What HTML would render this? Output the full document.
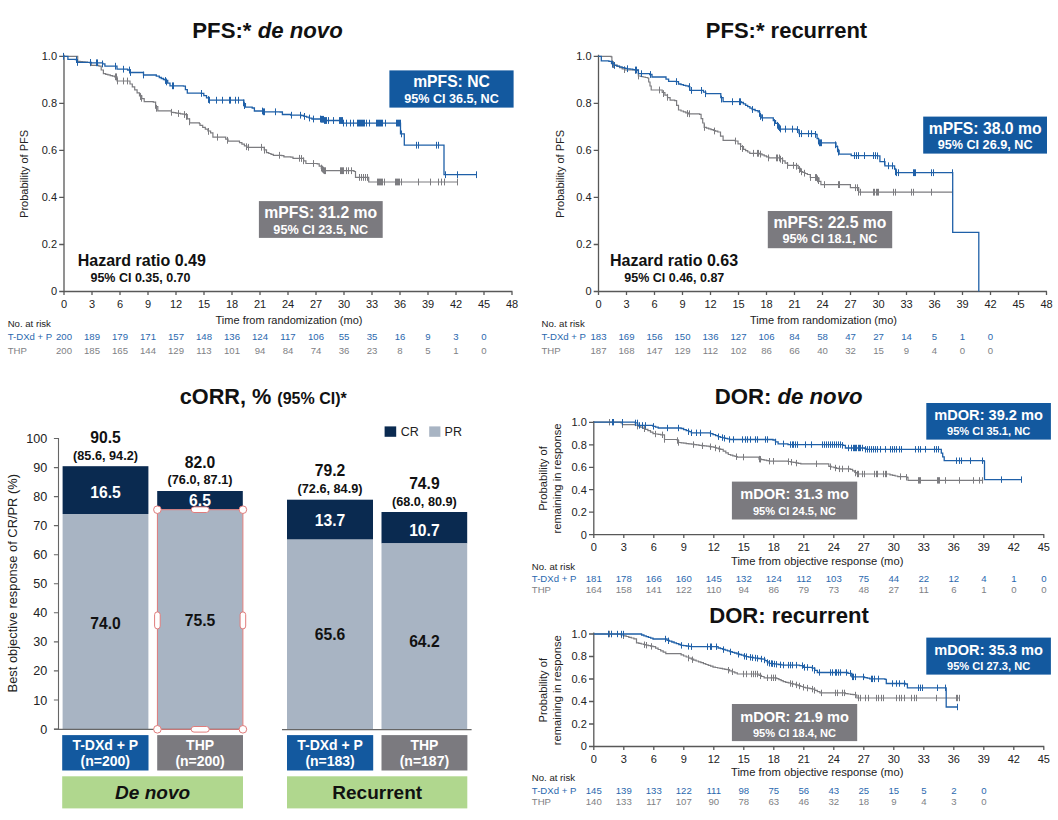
<!DOCTYPE html>
<html><head><meta charset="utf-8"><title>PFS, cORR and DOR by de novo / recurrent disease</title>
<style>
html,body{margin:0;padding:0;background:#fff;}
body{width:1058px;height:820px;overflow:hidden;font-family:"Liberation Sans",sans-serif;}
svg{display:block;font-family:"Liberation Sans",sans-serif;}
</style></head><body>
<svg width="1058" height="820" viewBox="0 0 1058 820">
<rect width="1058" height="820" fill="#ffffff"/>
<text x="267.5" y="37.8" font-size="22.2" text-anchor="middle" fill="#111" font-weight="bold">PFS:* <tspan font-style="italic">de novo</tspan></text>
<text x="786.5" y="37.8" font-size="22.00" text-anchor="middle" fill="#111" font-weight="bold" font-style="normal">PFS:* recurrent</text>
<text x="263.2" y="403.6" font-size="21.7" text-anchor="middle" fill="#111" font-weight="bold">cORR, % <tspan font-size="16">(95% CI)*</tspan></text>
<text x="788.6" y="403.8" font-size="22.2" text-anchor="middle" fill="#111" font-weight="bold">DOR: <tspan font-style="italic">de novo</tspan></text>
<text x="789.0" y="622.7" font-size="22.10" text-anchor="middle" fill="#111" font-weight="bold" font-style="normal">DOR: recurrent</text>
<path d="M64.0 54.8V291.5H512.5M64.0 291.5h-4.8M64.0 244.5h-4.8M64.0 197.4h-4.8M64.0 150.4h-4.8M64.0 103.3h-4.8M64.0 56.3h-4.8M64.0 291.5v3.5M92.0 291.5v3.5M120.0 291.5v3.5M148.0 291.5v3.5M176.0 291.5v3.5M204.0 291.5v3.5M232.0 291.5v3.5M260.0 291.5v3.5M288.0 291.5v3.5M316.0 291.5v3.5M344.0 291.5v3.5M372.0 291.5v3.5M400.0 291.5v3.5M428.0 291.5v3.5M456.0 291.5v3.5M484.0 291.5v3.5M512.0 291.5v3.5" fill="none" stroke="#585858" stroke-width="1.3"/>
<text x="57.0" y="295.4" font-size="11.00" text-anchor="end" fill="#222222" font-weight="normal" font-style="normal">0</text>
<text x="57.0" y="248.4" font-size="11.00" text-anchor="end" fill="#222222" font-weight="normal" font-style="normal">0.2</text>
<text x="57.0" y="201.3" font-size="11.00" text-anchor="end" fill="#222222" font-weight="normal" font-style="normal">0.4</text>
<text x="57.0" y="154.3" font-size="11.00" text-anchor="end" fill="#222222" font-weight="normal" font-style="normal">0.6</text>
<text x="57.0" y="107.2" font-size="11.00" text-anchor="end" fill="#222222" font-weight="normal" font-style="normal">0.8</text>
<text x="57.0" y="60.2" font-size="11.00" text-anchor="end" fill="#222222" font-weight="normal" font-style="normal">1.0</text>
<text x="64.0" y="308.4" font-size="11.00" text-anchor="middle" fill="#222222" font-weight="normal" font-style="normal">0</text>
<text x="92.0" y="308.4" font-size="11.00" text-anchor="middle" fill="#222222" font-weight="normal" font-style="normal">3</text>
<text x="120.0" y="308.4" font-size="11.00" text-anchor="middle" fill="#222222" font-weight="normal" font-style="normal">6</text>
<text x="148.0" y="308.4" font-size="11.00" text-anchor="middle" fill="#222222" font-weight="normal" font-style="normal">9</text>
<text x="176.0" y="308.4" font-size="11.00" text-anchor="middle" fill="#222222" font-weight="normal" font-style="normal">12</text>
<text x="204.0" y="308.4" font-size="11.00" text-anchor="middle" fill="#222222" font-weight="normal" font-style="normal">15</text>
<text x="232.0" y="308.4" font-size="11.00" text-anchor="middle" fill="#222222" font-weight="normal" font-style="normal">18</text>
<text x="260.0" y="308.4" font-size="11.00" text-anchor="middle" fill="#222222" font-weight="normal" font-style="normal">21</text>
<text x="288.0" y="308.4" font-size="11.00" text-anchor="middle" fill="#222222" font-weight="normal" font-style="normal">24</text>
<text x="316.0" y="308.4" font-size="11.00" text-anchor="middle" fill="#222222" font-weight="normal" font-style="normal">27</text>
<text x="344.0" y="308.4" font-size="11.00" text-anchor="middle" fill="#222222" font-weight="normal" font-style="normal">30</text>
<text x="372.0" y="308.4" font-size="11.00" text-anchor="middle" fill="#222222" font-weight="normal" font-style="normal">33</text>
<text x="400.0" y="308.4" font-size="11.00" text-anchor="middle" fill="#222222" font-weight="normal" font-style="normal">36</text>
<text x="428.0" y="308.4" font-size="11.00" text-anchor="middle" fill="#222222" font-weight="normal" font-style="normal">39</text>
<text x="456.0" y="308.4" font-size="11.00" text-anchor="middle" fill="#222222" font-weight="normal" font-style="normal">42</text>
<text x="484.0" y="308.4" font-size="11.00" text-anchor="middle" fill="#222222" font-weight="normal" font-style="normal">45</text>
<text x="512.0" y="308.4" font-size="11.00" text-anchor="middle" fill="#222222" font-weight="normal" font-style="normal">48</text>
<text x="289.0" y="324.2" font-size="11.00" text-anchor="middle" fill="#222222" font-weight="normal" font-style="normal">Time from randomization (mo)</text>
<text x="28.0" y="173.9" font-size="11.00" text-anchor="middle" fill="#222222" font-weight="normal" font-style="normal" transform="rotate(-90 28.0 173.9)">Probability of PFS</text>
<text x="7.7" y="327.3" font-size="9.60" text-anchor="start" fill="#222222" font-weight="normal" font-style="normal">No. at risk</text>
<text x="7.7" y="340.4" font-size="9.60" text-anchor="start" fill="#2a68ae" font-weight="normal" font-style="normal">T-DXd + P</text>
<text x="7.7" y="354.4" font-size="9.60" text-anchor="start" fill="#808184" font-weight="normal" font-style="normal">THP</text>
<text x="64.0" y="340.4" font-size="9.60" text-anchor="middle" fill="#2a68ae" font-weight="normal" font-style="normal">200</text>
<text x="92.0" y="340.4" font-size="9.60" text-anchor="middle" fill="#2a68ae" font-weight="normal" font-style="normal">189</text>
<text x="120.0" y="340.4" font-size="9.60" text-anchor="middle" fill="#2a68ae" font-weight="normal" font-style="normal">179</text>
<text x="148.0" y="340.4" font-size="9.60" text-anchor="middle" fill="#2a68ae" font-weight="normal" font-style="normal">171</text>
<text x="176.0" y="340.4" font-size="9.60" text-anchor="middle" fill="#2a68ae" font-weight="normal" font-style="normal">157</text>
<text x="204.0" y="340.4" font-size="9.60" text-anchor="middle" fill="#2a68ae" font-weight="normal" font-style="normal">148</text>
<text x="232.0" y="340.4" font-size="9.60" text-anchor="middle" fill="#2a68ae" font-weight="normal" font-style="normal">136</text>
<text x="260.0" y="340.4" font-size="9.60" text-anchor="middle" fill="#2a68ae" font-weight="normal" font-style="normal">124</text>
<text x="288.0" y="340.4" font-size="9.60" text-anchor="middle" fill="#2a68ae" font-weight="normal" font-style="normal">117</text>
<text x="316.0" y="340.4" font-size="9.60" text-anchor="middle" fill="#2a68ae" font-weight="normal" font-style="normal">106</text>
<text x="344.0" y="340.4" font-size="9.60" text-anchor="middle" fill="#2a68ae" font-weight="normal" font-style="normal">55</text>
<text x="372.0" y="340.4" font-size="9.60" text-anchor="middle" fill="#2a68ae" font-weight="normal" font-style="normal">35</text>
<text x="400.0" y="340.4" font-size="9.60" text-anchor="middle" fill="#2a68ae" font-weight="normal" font-style="normal">16</text>
<text x="428.0" y="340.4" font-size="9.60" text-anchor="middle" fill="#2a68ae" font-weight="normal" font-style="normal">9</text>
<text x="456.0" y="340.4" font-size="9.60" text-anchor="middle" fill="#2a68ae" font-weight="normal" font-style="normal">3</text>
<text x="484.0" y="340.4" font-size="9.60" text-anchor="middle" fill="#2a68ae" font-weight="normal" font-style="normal">0</text>
<text x="64.0" y="354.4" font-size="9.60" text-anchor="middle" fill="#808184" font-weight="normal" font-style="normal">200</text>
<text x="92.0" y="354.4" font-size="9.60" text-anchor="middle" fill="#808184" font-weight="normal" font-style="normal">185</text>
<text x="120.0" y="354.4" font-size="9.60" text-anchor="middle" fill="#808184" font-weight="normal" font-style="normal">165</text>
<text x="148.0" y="354.4" font-size="9.60" text-anchor="middle" fill="#808184" font-weight="normal" font-style="normal">144</text>
<text x="176.0" y="354.4" font-size="9.60" text-anchor="middle" fill="#808184" font-weight="normal" font-style="normal">129</text>
<text x="204.0" y="354.4" font-size="9.60" text-anchor="middle" fill="#808184" font-weight="normal" font-style="normal">113</text>
<text x="232.0" y="354.4" font-size="9.60" text-anchor="middle" fill="#808184" font-weight="normal" font-style="normal">101</text>
<text x="260.0" y="354.4" font-size="9.60" text-anchor="middle" fill="#808184" font-weight="normal" font-style="normal">94</text>
<text x="288.0" y="354.4" font-size="9.60" text-anchor="middle" fill="#808184" font-weight="normal" font-style="normal">84</text>
<text x="316.0" y="354.4" font-size="9.60" text-anchor="middle" fill="#808184" font-weight="normal" font-style="normal">74</text>
<text x="344.0" y="354.4" font-size="9.60" text-anchor="middle" fill="#808184" font-weight="normal" font-style="normal">36</text>
<text x="372.0" y="354.4" font-size="9.60" text-anchor="middle" fill="#808184" font-weight="normal" font-style="normal">23</text>
<text x="400.0" y="354.4" font-size="9.60" text-anchor="middle" fill="#808184" font-weight="normal" font-style="normal">8</text>
<text x="428.0" y="354.4" font-size="9.60" text-anchor="middle" fill="#808184" font-weight="normal" font-style="normal">5</text>
<text x="456.0" y="354.4" font-size="9.60" text-anchor="middle" fill="#808184" font-weight="normal" font-style="normal">1</text>
<text x="484.0" y="354.4" font-size="9.60" text-anchor="middle" fill="#808184" font-weight="normal" font-style="normal">0</text>
<path d="M64.0 56.3H74.7V56.3H77.7V61.3H80.1V61.6H82.5V61.9H85.0V62.2H87.4V62.5H89.8V62.8H91.3V65.4H98.9V66.2H101.2V70.0H103.4V73.7H105.7V74.3H107.9V74.9H110.2V75.6H112.4V76.2H114.7V76.8H117.0V81.0H127.6V81.0H130.0V84.0H132.3V86.9H134.7V89.9H137.1V92.8H139.5V95.8H141.8V98.7H144.2V101.7H153.3V102.2H155.6V106.5H157.8V110.8H171.4V112.3H173.7V112.7H175.9V113.1H178.2V113.4H180.5V113.8H182.7V114.2H185.0V114.6H187.3V118.8H189.6V122.9H199.4V123.6H200.0V125.4H202.7V127.3H205.3V129.2H207.9V131.0H210.6V132.9H212.9V137.2H223.4V137.2H225.7V139.2H228.0V141.2H237.0V141.2H239.5V142.7H241.9V144.2H244.4V145.8H246.9V147.3H262.0V147.3H264.2V149.9H266.5V152.6H268.8V153.5H271.0V154.4H273.3V155.3H281.7V155.6H283.9V156.8H290.7V157.1H293.0V158.3H301.3V158.3H303.6V160.9H305.9V163.5H317.2V163.9H319.2V166.2H321.3V168.4H323.3V170.7H354.0V171.5H355.5V177.4H367.5V177.4H368.7V182.0H457.2V182.0" fill="none" stroke="#7c7c80" stroke-width="1.2"/>
<path d="M90.5 59.4v6.8M115.5 73.4v6.8M116.5 73.4v6.8M117.5 77.6v6.8M123.5 77.6v6.8M127.5 77.6v6.8M140.5 93.1v6.8M141.5 94.9v6.8M155.5 102.0v6.8M156.5 104.9v6.8M171.5 108.9v6.8M178.5 110.1v6.8M184.5 111.1v6.8M186.5 113.0v6.8M189.5 118.4v6.8M208.5 128.0v6.8M217.5 133.8v6.8M227.5 136.9v6.8M246.5 143.3v6.8M248.5 143.9v6.8M261.5 143.9v6.8M264.5 146.8v6.8M279.5 151.9v6.8M299.5 154.9v6.8M301.5 155.1v6.8M303.5 157.4v6.8M313.5 160.1v6.8M321.5 164.7v6.8M322.5 165.7v6.8M323.5 166.7v6.8M324.5 167.3v6.8M325.5 167.3v6.8M340.5 167.3v6.8M341.5 167.3v6.8M342.5 167.3v6.8M343.5 167.3v6.8M346.5 167.3v6.8M348.5 167.3v6.8M351.5 167.3v6.8M359.5 174.0v6.8M361.5 174.0v6.8M363.5 174.0v6.8M365.5 174.0v6.8M367.5 174.0v6.8M377.5 178.6v6.8M378.5 178.6v6.8M379.5 178.6v6.8M380.5 178.6v6.8M381.5 178.6v6.8M382.5 178.6v6.8M384.5 178.6v6.8M395.5 178.6v6.8M396.5 178.6v6.8M397.5 178.6v6.8M398.5 178.6v6.8M399.5 178.6v6.8M401.5 178.6v6.8M418.5 178.6v6.8M430.5 178.6v6.8M438.5 178.6v6.8M441.5 178.6v6.8M444.5 178.6v6.8M457.5 178.6v6.8" fill="none" stroke="#7c7c80" stroke-width="1"/>
<path d="M64.0 56.3H67.9V59.4H75.4V59.6H76.9V62.4H91.3V62.8H102.6V63.9H104.9V66.2H114.7V66.2H117.0V69.2H127.6V70.0H129.9V72.5H139.7V72.5H143.5V75.0H153.3V75.0H156.3V76.2H159.3V77.5H161.3V78.5H163.4V79.5H165.4V80.5H167.7V83.2H170.0V85.8H183.5V86.1H185.4V89.6H187.3V93.1H201.0V93.4H203.8V95.7H206.5V97.9H209.3V100.2H242.3V100.2H243.9V103.7H245.4V107.2H252.2V108.0H254.4V111.0H263.5V111.8H280.1V112.0H282.4V114.5H290.7V115.2H301.3V115.5H303.9V116.4H306.6V117.2H309.2V118.1H311.9V119.0H321.0V119.3H323.2V120.5H339.9V120.5H342.2V123.1H399.7V123.1H400.5V133.9H404.3V133.9V145.2H444.0V145.2V174.7H476.9V174.7" fill="none" stroke="#1f60a8" stroke-width="1.3"/>
<path d="M63.5 52.9v6.8M76.5 56.2v6.8M77.5 59.0v6.8M90.5 59.0v6.8M96.5 59.4v6.8M97.5 59.4v6.8M102.5 60.5v6.8M115.5 62.8v6.8M123.5 65.8v6.8M129.5 66.6v6.8M130.5 69.1v6.8M143.5 71.6v6.8M165.5 77.1v6.8M166.5 78.5v6.8M172.5 82.4v6.8M173.5 82.4v6.8M201.5 90.0v6.8M208.5 96.1v6.8M209.5 96.8v6.8M216.5 96.8v6.8M222.5 96.8v6.8M229.5 96.8v6.8M230.5 96.8v6.8M235.5 96.8v6.8M238.5 96.8v6.8M243.5 99.5v6.8M244.5 102.2v6.8M262.5 107.6v6.8M263.5 108.4v6.8M264.5 108.4v6.8M275.5 108.4v6.8M291.5 111.8v6.8M300.5 111.8v6.8M304.5 113.0v6.8M309.5 114.6v6.8M313.5 115.6v6.8M320.5 115.6v6.8M321.5 115.9v6.8M322.5 115.9v6.8M323.5 115.9v6.8M324.5 117.1v6.8M325.5 117.1v6.8M326.5 117.1v6.8M328.5 117.1v6.8M333.5 117.1v6.8M339.5 117.1v6.8M340.5 117.1v6.8M341.5 117.1v6.8M342.5 117.1v6.8M343.5 119.7v6.8M346.5 119.7v6.8M350.5 119.7v6.8M353.5 119.7v6.8M357.5 119.7v6.8M358.5 119.7v6.8M359.5 119.7v6.8M360.5 119.7v6.8M361.5 119.7v6.8M362.5 119.7v6.8M363.5 119.7v6.8M364.5 119.7v6.8M366.5 119.7v6.8M369.5 119.7v6.8M376.5 119.7v6.8M377.5 119.7v6.8M378.5 119.7v6.8M379.5 119.7v6.8M380.5 119.7v6.8M381.5 119.7v6.8M382.5 119.7v6.8M385.5 119.7v6.8M396.5 119.7v6.8M397.5 119.7v6.8M398.5 119.7v6.8M399.5 119.7v6.8M400.5 119.7v6.8M401.5 130.5v6.8M416.5 141.8v6.8M418.5 141.8v6.8M436.5 141.8v6.8M438.5 141.8v6.8M445.5 171.3v6.8M457.5 171.3v6.8M476.5 171.3v6.8" fill="none" stroke="#1f60a8" stroke-width="1"/>
<rect x="389.4" y="70.4" width="124.2" height="37.2" fill="#13599f"/>
<text x="451.5" y="87.4" font-size="15.70" text-anchor="middle" fill="#ffffff" font-weight="bold" font-style="normal">mPFS: NC</text>
<text x="451.5" y="102.8" font-size="12.60" text-anchor="middle" fill="#ffffff" font-weight="bold" font-style="normal">95% CI 36.5, NC</text>
<rect x="258.9" y="201.1" width="123.8" height="36.8" fill="#7b7a7f"/>
<text x="320.8" y="217.5" font-size="15.75" text-anchor="middle" fill="#ffffff" font-weight="bold" font-style="normal">mPFS: 31.2 mo</text>
<text x="320.8" y="233.5" font-size="12.65" text-anchor="middle" fill="#ffffff" font-weight="bold" font-style="normal">95% CI 23.5, NC</text>
<text x="141.8" y="265.8" font-size="16.00" text-anchor="middle" fill="#111" font-weight="bold" font-style="normal">Hazard ratio 0.49</text>
<text x="140.5" y="281.8" font-size="12.50" text-anchor="middle" fill="#111" font-weight="bold" font-style="normal">95% CI 0.35, 0.70</text>
<path d="M598.5 54.8V291.5H1047.0M598.5 291.5h-4.8M598.5 244.5h-4.8M598.5 197.4h-4.8M598.5 150.4h-4.8M598.5 103.3h-4.8M598.5 56.3h-4.8M598.5 291.5v3.5M626.5 291.5v3.5M654.5 291.5v3.5M682.5 291.5v3.5M710.5 291.5v3.5M738.5 291.5v3.5M766.5 291.5v3.5M794.5 291.5v3.5M822.5 291.5v3.5M850.5 291.5v3.5M878.5 291.5v3.5M906.5 291.5v3.5M934.5 291.5v3.5M962.5 291.5v3.5M990.5 291.5v3.5M1018.5 291.5v3.5M1046.5 291.5v3.5" fill="none" stroke="#585858" stroke-width="1.3"/>
<text x="591.5" y="295.4" font-size="11.00" text-anchor="end" fill="#222222" font-weight="normal" font-style="normal">0</text>
<text x="591.5" y="248.4" font-size="11.00" text-anchor="end" fill="#222222" font-weight="normal" font-style="normal">0.2</text>
<text x="591.5" y="201.3" font-size="11.00" text-anchor="end" fill="#222222" font-weight="normal" font-style="normal">0.4</text>
<text x="591.5" y="154.3" font-size="11.00" text-anchor="end" fill="#222222" font-weight="normal" font-style="normal">0.6</text>
<text x="591.5" y="107.2" font-size="11.00" text-anchor="end" fill="#222222" font-weight="normal" font-style="normal">0.8</text>
<text x="591.5" y="60.2" font-size="11.00" text-anchor="end" fill="#222222" font-weight="normal" font-style="normal">1.0</text>
<text x="598.5" y="308.4" font-size="11.00" text-anchor="middle" fill="#222222" font-weight="normal" font-style="normal">0</text>
<text x="626.5" y="308.4" font-size="11.00" text-anchor="middle" fill="#222222" font-weight="normal" font-style="normal">3</text>
<text x="654.5" y="308.4" font-size="11.00" text-anchor="middle" fill="#222222" font-weight="normal" font-style="normal">6</text>
<text x="682.5" y="308.4" font-size="11.00" text-anchor="middle" fill="#222222" font-weight="normal" font-style="normal">9</text>
<text x="710.5" y="308.4" font-size="11.00" text-anchor="middle" fill="#222222" font-weight="normal" font-style="normal">12</text>
<text x="738.5" y="308.4" font-size="11.00" text-anchor="middle" fill="#222222" font-weight="normal" font-style="normal">15</text>
<text x="766.5" y="308.4" font-size="11.00" text-anchor="middle" fill="#222222" font-weight="normal" font-style="normal">18</text>
<text x="794.5" y="308.4" font-size="11.00" text-anchor="middle" fill="#222222" font-weight="normal" font-style="normal">21</text>
<text x="822.5" y="308.4" font-size="11.00" text-anchor="middle" fill="#222222" font-weight="normal" font-style="normal">24</text>
<text x="850.5" y="308.4" font-size="11.00" text-anchor="middle" fill="#222222" font-weight="normal" font-style="normal">27</text>
<text x="878.5" y="308.4" font-size="11.00" text-anchor="middle" fill="#222222" font-weight="normal" font-style="normal">30</text>
<text x="906.5" y="308.4" font-size="11.00" text-anchor="middle" fill="#222222" font-weight="normal" font-style="normal">33</text>
<text x="934.5" y="308.4" font-size="11.00" text-anchor="middle" fill="#222222" font-weight="normal" font-style="normal">36</text>
<text x="962.5" y="308.4" font-size="11.00" text-anchor="middle" fill="#222222" font-weight="normal" font-style="normal">39</text>
<text x="990.5" y="308.4" font-size="11.00" text-anchor="middle" fill="#222222" font-weight="normal" font-style="normal">42</text>
<text x="1018.5" y="308.4" font-size="11.00" text-anchor="middle" fill="#222222" font-weight="normal" font-style="normal">45</text>
<text x="1046.5" y="308.4" font-size="11.00" text-anchor="middle" fill="#222222" font-weight="normal" font-style="normal">48</text>
<text x="823.5" y="324.2" font-size="11.00" text-anchor="middle" fill="#222222" font-weight="normal" font-style="normal">Time from randomization (mo)</text>
<text x="564.5" y="173.9" font-size="11.00" text-anchor="middle" fill="#222222" font-weight="normal" font-style="normal" transform="rotate(-90 564.5 173.9)">Probability of PFS</text>
<text x="541.5" y="327.3" font-size="9.60" text-anchor="start" fill="#222222" font-weight="normal" font-style="normal">No. at risk</text>
<text x="541.5" y="340.4" font-size="9.60" text-anchor="start" fill="#2a68ae" font-weight="normal" font-style="normal">T-DXd + P</text>
<text x="541.5" y="354.4" font-size="9.60" text-anchor="start" fill="#808184" font-weight="normal" font-style="normal">THP</text>
<text x="598.5" y="340.4" font-size="9.60" text-anchor="middle" fill="#2a68ae" font-weight="normal" font-style="normal">183</text>
<text x="626.5" y="340.4" font-size="9.60" text-anchor="middle" fill="#2a68ae" font-weight="normal" font-style="normal">169</text>
<text x="654.5" y="340.4" font-size="9.60" text-anchor="middle" fill="#2a68ae" font-weight="normal" font-style="normal">156</text>
<text x="682.5" y="340.4" font-size="9.60" text-anchor="middle" fill="#2a68ae" font-weight="normal" font-style="normal">150</text>
<text x="710.5" y="340.4" font-size="9.60" text-anchor="middle" fill="#2a68ae" font-weight="normal" font-style="normal">136</text>
<text x="738.5" y="340.4" font-size="9.60" text-anchor="middle" fill="#2a68ae" font-weight="normal" font-style="normal">127</text>
<text x="766.5" y="340.4" font-size="9.60" text-anchor="middle" fill="#2a68ae" font-weight="normal" font-style="normal">106</text>
<text x="794.5" y="340.4" font-size="9.60" text-anchor="middle" fill="#2a68ae" font-weight="normal" font-style="normal">84</text>
<text x="822.5" y="340.4" font-size="9.60" text-anchor="middle" fill="#2a68ae" font-weight="normal" font-style="normal">58</text>
<text x="850.5" y="340.4" font-size="9.60" text-anchor="middle" fill="#2a68ae" font-weight="normal" font-style="normal">47</text>
<text x="878.5" y="340.4" font-size="9.60" text-anchor="middle" fill="#2a68ae" font-weight="normal" font-style="normal">27</text>
<text x="906.5" y="340.4" font-size="9.60" text-anchor="middle" fill="#2a68ae" font-weight="normal" font-style="normal">14</text>
<text x="934.5" y="340.4" font-size="9.60" text-anchor="middle" fill="#2a68ae" font-weight="normal" font-style="normal">5</text>
<text x="962.5" y="340.4" font-size="9.60" text-anchor="middle" fill="#2a68ae" font-weight="normal" font-style="normal">1</text>
<text x="990.5" y="340.4" font-size="9.60" text-anchor="middle" fill="#2a68ae" font-weight="normal" font-style="normal">0</text>
<text x="598.5" y="354.4" font-size="9.60" text-anchor="middle" fill="#808184" font-weight="normal" font-style="normal">187</text>
<text x="626.5" y="354.4" font-size="9.60" text-anchor="middle" fill="#808184" font-weight="normal" font-style="normal">168</text>
<text x="654.5" y="354.4" font-size="9.60" text-anchor="middle" fill="#808184" font-weight="normal" font-style="normal">147</text>
<text x="682.5" y="354.4" font-size="9.60" text-anchor="middle" fill="#808184" font-weight="normal" font-style="normal">129</text>
<text x="710.5" y="354.4" font-size="9.60" text-anchor="middle" fill="#808184" font-weight="normal" font-style="normal">112</text>
<text x="738.5" y="354.4" font-size="9.60" text-anchor="middle" fill="#808184" font-weight="normal" font-style="normal">102</text>
<text x="766.5" y="354.4" font-size="9.60" text-anchor="middle" fill="#808184" font-weight="normal" font-style="normal">86</text>
<text x="794.5" y="354.4" font-size="9.60" text-anchor="middle" fill="#808184" font-weight="normal" font-style="normal">66</text>
<text x="822.5" y="354.4" font-size="9.60" text-anchor="middle" fill="#808184" font-weight="normal" font-style="normal">40</text>
<text x="850.5" y="354.4" font-size="9.60" text-anchor="middle" fill="#808184" font-weight="normal" font-style="normal">32</text>
<text x="878.5" y="354.4" font-size="9.60" text-anchor="middle" fill="#808184" font-weight="normal" font-style="normal">15</text>
<text x="906.5" y="354.4" font-size="9.60" text-anchor="middle" fill="#808184" font-weight="normal" font-style="normal">9</text>
<text x="934.5" y="354.4" font-size="9.60" text-anchor="middle" fill="#808184" font-weight="normal" font-style="normal">4</text>
<text x="962.5" y="354.4" font-size="9.60" text-anchor="middle" fill="#808184" font-weight="normal" font-style="normal">0</text>
<text x="990.5" y="354.4" font-size="9.60" text-anchor="middle" fill="#808184" font-weight="normal" font-style="normal">0</text>
<path d="M598.3 56.3H611.2V56.8H611.9V63.9H614.5V65.1H617.1V66.3H619.6V67.6H622.2V68.8H624.8V70.0H635.4V70.4H638.4V76.0H640.7V76.5H643.0V77.0H645.2V77.5H647.5V78.0H648.7V82.0H650.0V86.0H651.2V90.0H659.6V90.0H662.2V92.5H664.9V95.1H667.5V97.7H670.1V100.2H674.7V100.7H676.6V105.3H678.5V110.0H681.0V111.0H683.4V111.9H685.8V112.8H688.3V113.8H699.6V114.3H701.1V118.7H702.7V123.0H704.2V127.4H706.5V128.2H708.7V128.9H711.0V129.7H713.3V130.5H715.5V131.2H717.8V132.0H720.5V136.2H723.1V140.3H735.2V141.0H738.0V143.8H740.7V146.5H743.5V149.3H745.6V150.6H747.7V152.0H749.8V153.3H759.7V153.8H762.0V154.8H764.2V155.9H766.5V156.9H768.7V157.9H780.1V158.6H782.6V160.9H785.1V163.1H787.6V165.4H796.0V165.4H798.2V168.4H800.5V171.5H802.8V172.5H805.0V173.5H807.3V174.5H810.3V177.5H817.1V178.0H819.0V181.3H820.9V184.6H848.9V184.6H850.4V187.7H855.7V187.7H858.7V192.2H952.7V192.2" fill="none" stroke="#7c7c80" stroke-width="1.2"/>
<path d="M612.5 60.5v6.8M613.5 61.2v6.8M624.5 66.2v6.8M635.5 67.0v6.8M638.5 72.6v6.8M659.5 86.6v6.8M663.5 90.2v6.8M667.5 93.9v6.8M687.5 110.1v6.8M689.5 110.4v6.8M704.5 124.0v6.8M714.5 127.6v6.8M735.5 137.6v6.8M742.5 145.1v6.8M740.5 143.2v6.8M753.5 149.9v6.8M757.5 149.9v6.8M758.5 149.9v6.8M760.5 150.7v6.8M768.5 154.5v6.8M776.5 154.5v6.8M777.5 154.5v6.8M779.5 154.5v6.8M780.5 155.8v6.8M782.5 157.2v6.8M787.5 162.0v6.8M793.5 162.0v6.8M796.5 162.9v6.8M799.5 166.1v6.8M801.5 168.4v6.8M804.5 169.8v6.8M810.5 174.1v6.8M815.5 174.1v6.8M816.5 174.1v6.8M817.5 175.5v6.8M818.5 177.2v6.8M824.5 181.2v6.8M838.5 181.2v6.8M839.5 181.2v6.8M855.5 184.3v6.8M857.5 184.3v6.8M858.5 188.8v6.8M860.5 188.8v6.8M873.5 188.8v6.8M874.5 188.8v6.8M876.5 188.8v6.8M877.5 188.8v6.8M878.5 188.8v6.8M893.5 188.8v6.8M895.5 188.8v6.8M911.5 188.8v6.8M913.5 188.8v6.8M931.5 188.8v6.8M952.5 188.8v6.8" fill="none" stroke="#7c7c80" stroke-width="1"/>
<path d="M598.3 56.3H601.3V60.9H608.9V61.3H611.5V63.4H614.2V65.4H616.9V66.2H619.5V66.9H622.1V67.7H624.8V68.4H627.4V68.8H630.1V69.2H632.8V69.6H635.4V70.0H638.4V73.7H649.7V74.5H652.0V77.0H663.3V77.0H666.0V79.2H668.6V81.3H676.2V81.6H678.5V84.0H681.0V84.7H683.4V85.3H685.8V85.9H688.3V86.6H689.8V90.4H701.2V90.4H703.5V92.1H705.7V93.7H718.5V93.7H720.8V97.7H723.1V101.7H741.2V102.5H743.4V103.9H745.6V105.3H747.7V106.7H749.9V108.1H752.1V109.5H755.1V110.7H758.1V111.8H759.7V114.8H761.2V117.8H771.0V117.8H773.3V120.6H775.5V123.4H777.8V126.3H780.1V129.1H796.7V129.6H799.0V133.7H815.6V134.4H817.1V138.6H818.6V142.8H834.5V142.8H836.0V146.6H837.6V150.3H839.1V154.1H849.0V154.1H851.2V155.6H877.6V155.9H879.9V161.7H883.7V161.7H884.9V165.8H893.4V165.8H894.6V169.2H895.8V172.7H952.7V172.7V232.4H978.8V232.4V291.4" fill="none" stroke="#1f60a8" stroke-width="1.3"/>
<path d="M612.5 60.8v6.8M614.5 62.0v6.8M627.5 65.3v6.8M635.5 66.6v6.8M636.5 66.6v6.8M641.5 70.3v6.8M650.5 71.1v6.8M676.5 78.2v6.8M689.5 83.2v6.8M691.5 87.0v6.8M701.5 87.0v6.8M705.5 90.3v6.8M721.5 95.7v6.8M732.5 98.3v6.8M739.5 98.3v6.8M740.5 98.3v6.8M752.5 106.1v6.8M759.5 110.1v6.8M760.5 113.0v6.8M762.5 114.4v6.8M774.5 119.1v6.8M777.5 121.9v6.8M778.5 123.1v6.8M779.5 124.3v6.8M780.5 125.6v6.8M785.5 125.7v6.8M792.5 125.7v6.8M797.5 126.2v6.8M799.5 130.3v6.8M801.5 130.3v6.8M808.5 130.3v6.8M811.5 130.3v6.8M815.5 131.0v6.8M818.5 137.7v6.8M819.5 139.4v6.8M820.5 139.4v6.8M821.5 139.4v6.8M835.5 141.4v6.8M837.5 145.5v6.8M838.5 148.7v6.8M854.5 152.2v6.8M856.5 152.2v6.8M858.5 152.2v6.8M864.5 152.2v6.8M873.5 152.2v6.8M875.5 152.2v6.8M877.5 152.5v6.8M884.5 158.3v6.8M888.5 162.4v6.8M892.5 162.4v6.8M895.5 168.4v6.8M896.5 169.3v6.8M898.5 169.3v6.8M913.5 169.3v6.8M914.5 169.3v6.8M915.5 169.3v6.8M931.5 169.3v6.8M933.5 169.3v6.8M952.5 169.3v6.8" fill="none" stroke="#1f60a8" stroke-width="1"/>
<rect x="923.2" y="116.6" width="123.8" height="37.0" fill="#13599f"/>
<text x="985.1" y="133.8" font-size="15.75" text-anchor="middle" fill="#ffffff" font-weight="bold" font-style="normal">mPFS: 38.0 mo</text>
<text x="985.1" y="149.0" font-size="12.65" text-anchor="middle" fill="#ffffff" font-weight="bold" font-style="normal">95% CI 26.9, NC</text>
<rect x="767.8" y="211.0" width="124.4" height="37.2" fill="#7b7a7f"/>
<text x="830.0" y="227.6" font-size="15.75" text-anchor="middle" fill="#ffffff" font-weight="bold" font-style="normal">mPFS: 22.5 mo</text>
<text x="830.0" y="243.4" font-size="12.65" text-anchor="middle" fill="#ffffff" font-weight="bold" font-style="normal">95% CI 18.1, NC</text>
<text x="674.0" y="265.8" font-size="16.00" text-anchor="middle" fill="#111" font-weight="bold" font-style="normal">Hazard ratio 0.63</text>
<text x="674.3" y="281.8" font-size="12.50" text-anchor="middle" fill="#111" font-weight="bold" font-style="normal">95% CI 0.46, 0.87</text>
<path d="M593.8 420.9V534.6H1044.3M593.8 534.6h-4.8M593.8 512.2h-4.8M593.8 489.7h-4.8M593.8 467.3h-4.8M593.8 444.8h-4.8M593.8 422.4h-4.8M593.8 534.6v3.5M623.8 534.6v3.5M653.8 534.6v3.5M683.8 534.6v3.5M713.8 534.6v3.5M743.8 534.6v3.5M773.8 534.6v3.5M803.8 534.6v3.5M833.8 534.6v3.5M863.8 534.6v3.5M893.8 534.6v3.5M923.8 534.6v3.5M953.8 534.6v3.5M983.8 534.6v3.5M1013.8 534.6v3.5M1043.8 534.6v3.5" fill="none" stroke="#585858" stroke-width="1.3"/>
<text x="586.8" y="538.5" font-size="11.00" text-anchor="end" fill="#222222" font-weight="normal" font-style="normal">0</text>
<text x="586.8" y="516.1" font-size="11.00" text-anchor="end" fill="#222222" font-weight="normal" font-style="normal">0.2</text>
<text x="586.8" y="493.6" font-size="11.00" text-anchor="end" fill="#222222" font-weight="normal" font-style="normal">0.4</text>
<text x="586.8" y="471.2" font-size="11.00" text-anchor="end" fill="#222222" font-weight="normal" font-style="normal">0.6</text>
<text x="586.8" y="448.7" font-size="11.00" text-anchor="end" fill="#222222" font-weight="normal" font-style="normal">0.8</text>
<text x="586.8" y="426.3" font-size="11.00" text-anchor="end" fill="#222222" font-weight="normal" font-style="normal">1.0</text>
<text x="593.8" y="551.2" font-size="11.00" text-anchor="middle" fill="#222222" font-weight="normal" font-style="normal">0</text>
<text x="623.8" y="551.2" font-size="11.00" text-anchor="middle" fill="#222222" font-weight="normal" font-style="normal">3</text>
<text x="653.8" y="551.2" font-size="11.00" text-anchor="middle" fill="#222222" font-weight="normal" font-style="normal">6</text>
<text x="683.8" y="551.2" font-size="11.00" text-anchor="middle" fill="#222222" font-weight="normal" font-style="normal">9</text>
<text x="713.8" y="551.2" font-size="11.00" text-anchor="middle" fill="#222222" font-weight="normal" font-style="normal">12</text>
<text x="743.8" y="551.2" font-size="11.00" text-anchor="middle" fill="#222222" font-weight="normal" font-style="normal">15</text>
<text x="773.8" y="551.2" font-size="11.00" text-anchor="middle" fill="#222222" font-weight="normal" font-style="normal">18</text>
<text x="803.8" y="551.2" font-size="11.00" text-anchor="middle" fill="#222222" font-weight="normal" font-style="normal">21</text>
<text x="833.8" y="551.2" font-size="11.00" text-anchor="middle" fill="#222222" font-weight="normal" font-style="normal">24</text>
<text x="863.8" y="551.2" font-size="11.00" text-anchor="middle" fill="#222222" font-weight="normal" font-style="normal">27</text>
<text x="893.8" y="551.2" font-size="11.00" text-anchor="middle" fill="#222222" font-weight="normal" font-style="normal">30</text>
<text x="923.8" y="551.2" font-size="11.00" text-anchor="middle" fill="#222222" font-weight="normal" font-style="normal">33</text>
<text x="953.8" y="551.2" font-size="11.00" text-anchor="middle" fill="#222222" font-weight="normal" font-style="normal">36</text>
<text x="983.8" y="551.2" font-size="11.00" text-anchor="middle" fill="#222222" font-weight="normal" font-style="normal">39</text>
<text x="1013.8" y="551.2" font-size="11.00" text-anchor="middle" fill="#222222" font-weight="normal" font-style="normal">42</text>
<text x="1043.8" y="551.2" font-size="11.00" text-anchor="middle" fill="#222222" font-weight="normal" font-style="normal">45</text>
<text x="817.2" y="565.2" font-size="11.20" text-anchor="middle" fill="#222222" font-weight="normal" font-style="normal">Time from objective response (mo)</text>
<text x="547.4" y="478.5" font-size="11.20" text-anchor="middle" fill="#222222" font-weight="normal" font-style="normal" transform="rotate(-90 547.4 478.5)">Probability of</text>
<text x="561.4" y="478.5" font-size="11.20" text-anchor="middle" fill="#222222" font-weight="normal" font-style="normal" transform="rotate(-90 561.4 478.5)">remaining in response</text>
<text x="531.8" y="570.1" font-size="9.60" text-anchor="start" fill="#222222" font-weight="normal" font-style="normal">No. at risk</text>
<text x="531.8" y="582.2" font-size="9.60" text-anchor="start" fill="#2a68ae" font-weight="normal" font-style="normal">T-DXd + P</text>
<text x="531.8" y="593.3" font-size="9.60" text-anchor="start" fill="#808184" font-weight="normal" font-style="normal">THP</text>
<text x="593.8" y="582.2" font-size="9.60" text-anchor="middle" fill="#2a68ae" font-weight="normal" font-style="normal">181</text>
<text x="623.8" y="582.2" font-size="9.60" text-anchor="middle" fill="#2a68ae" font-weight="normal" font-style="normal">178</text>
<text x="653.8" y="582.2" font-size="9.60" text-anchor="middle" fill="#2a68ae" font-weight="normal" font-style="normal">166</text>
<text x="683.8" y="582.2" font-size="9.60" text-anchor="middle" fill="#2a68ae" font-weight="normal" font-style="normal">160</text>
<text x="713.8" y="582.2" font-size="9.60" text-anchor="middle" fill="#2a68ae" font-weight="normal" font-style="normal">145</text>
<text x="743.8" y="582.2" font-size="9.60" text-anchor="middle" fill="#2a68ae" font-weight="normal" font-style="normal">132</text>
<text x="773.8" y="582.2" font-size="9.60" text-anchor="middle" fill="#2a68ae" font-weight="normal" font-style="normal">124</text>
<text x="803.8" y="582.2" font-size="9.60" text-anchor="middle" fill="#2a68ae" font-weight="normal" font-style="normal">112</text>
<text x="833.8" y="582.2" font-size="9.60" text-anchor="middle" fill="#2a68ae" font-weight="normal" font-style="normal">103</text>
<text x="863.8" y="582.2" font-size="9.60" text-anchor="middle" fill="#2a68ae" font-weight="normal" font-style="normal">75</text>
<text x="893.8" y="582.2" font-size="9.60" text-anchor="middle" fill="#2a68ae" font-weight="normal" font-style="normal">44</text>
<text x="923.8" y="582.2" font-size="9.60" text-anchor="middle" fill="#2a68ae" font-weight="normal" font-style="normal">22</text>
<text x="953.8" y="582.2" font-size="9.60" text-anchor="middle" fill="#2a68ae" font-weight="normal" font-style="normal">12</text>
<text x="983.8" y="582.2" font-size="9.60" text-anchor="middle" fill="#2a68ae" font-weight="normal" font-style="normal">4</text>
<text x="1013.8" y="582.2" font-size="9.60" text-anchor="middle" fill="#2a68ae" font-weight="normal" font-style="normal">1</text>
<text x="1043.8" y="582.2" font-size="9.60" text-anchor="middle" fill="#2a68ae" font-weight="normal" font-style="normal">0</text>
<text x="593.8" y="593.3" font-size="9.60" text-anchor="middle" fill="#808184" font-weight="normal" font-style="normal">164</text>
<text x="623.8" y="593.3" font-size="9.60" text-anchor="middle" fill="#808184" font-weight="normal" font-style="normal">158</text>
<text x="653.8" y="593.3" font-size="9.60" text-anchor="middle" fill="#808184" font-weight="normal" font-style="normal">141</text>
<text x="683.8" y="593.3" font-size="9.60" text-anchor="middle" fill="#808184" font-weight="normal" font-style="normal">122</text>
<text x="713.8" y="593.3" font-size="9.60" text-anchor="middle" fill="#808184" font-weight="normal" font-style="normal">110</text>
<text x="743.8" y="593.3" font-size="9.60" text-anchor="middle" fill="#808184" font-weight="normal" font-style="normal">94</text>
<text x="773.8" y="593.3" font-size="9.60" text-anchor="middle" fill="#808184" font-weight="normal" font-style="normal">86</text>
<text x="803.8" y="593.3" font-size="9.60" text-anchor="middle" fill="#808184" font-weight="normal" font-style="normal">79</text>
<text x="833.8" y="593.3" font-size="9.60" text-anchor="middle" fill="#808184" font-weight="normal" font-style="normal">73</text>
<text x="863.8" y="593.3" font-size="9.60" text-anchor="middle" fill="#808184" font-weight="normal" font-style="normal">48</text>
<text x="893.8" y="593.3" font-size="9.60" text-anchor="middle" fill="#808184" font-weight="normal" font-style="normal">27</text>
<text x="923.8" y="593.3" font-size="9.60" text-anchor="middle" fill="#808184" font-weight="normal" font-style="normal">11</text>
<text x="953.8" y="593.3" font-size="9.60" text-anchor="middle" fill="#808184" font-weight="normal" font-style="normal">6</text>
<text x="983.8" y="593.3" font-size="9.60" text-anchor="middle" fill="#808184" font-weight="normal" font-style="normal">1</text>
<text x="1013.8" y="593.3" font-size="9.60" text-anchor="middle" fill="#808184" font-weight="normal" font-style="normal">0</text>
<text x="1043.8" y="593.3" font-size="9.60" text-anchor="middle" fill="#808184" font-weight="normal" font-style="normal">0</text>
<path d="M593.8 422.2H621.1V422.9H622.4V424.7H635.2V425.2H637.8V426.2H640.3V427.2H642.9V428.3H645.4V429.3H647.9V430.7H650.5V432.2H653.0V433.6H655.6V434.0H658.1V434.4H660.7V434.8H664.5V439.5H677.3V440.5H678.6V442.5H681.1V442.9H683.7V443.2H686.2V443.6H688.8V443.9H691.4V444.2H693.9V444.6H696.4V444.9H699.0V445.3H701.5V445.6H704.1V445.9H706.6V446.2H709.2V446.6H711.7V446.9H714.0V447.5H716.2V448.1H718.5V448.8H720.7V449.4H723.2V451.1H725.8V452.8H728.3V454.5H730.5V455.1H732.8V455.8H735.0V456.5H737.3V457.1H759.0V459.1H761.5V459.6H764.1V460.1H766.7V460.7H769.2V461.2H788.0V461.5H790.6V462.0H793.1V462.4H795.7V462.9H798.2V463.3H800.8V463.8H828.8V466.4H831.3V467.0H833.9V467.6H836.5V468.3H839.0V468.9H850.5V469.4H852.6V470.9H854.8V472.5H856.9V474.0H890.0V474.8H892.6V475.4H895.1V476.0H897.7V476.6H906.7V477.3H908.0V480.4H983.2V480.4" fill="none" stroke="#7c7c80" stroke-width="1.2"/>
<path d="M609.5 419.0v6.4M622.5 421.5v6.4M637.5 423.0v6.4M644.5 425.6v6.4M655.5 430.8v6.4M662.5 431.6v6.4M664.5 436.3v6.4M677.5 437.3v6.4M678.5 439.3v6.4M693.5 441.4v6.4M702.5 442.6v6.4M710.5 443.5v6.4M715.5 444.8v6.4M719.5 445.8v6.4M736.5 453.5v6.4M743.5 453.9v6.4M759.5 455.9v6.4M760.5 456.1v6.4M769.5 458.0v6.4M773.5 458.0v6.4M788.5 458.4v6.4M791.5 459.0v6.4M796.5 459.9v6.4M816.5 460.6v6.4M830.5 463.5v6.4M835.5 464.8v6.4M839.5 465.7v6.4M842.5 465.7v6.4M848.5 465.7v6.4M855.5 469.9v6.4M857.5 470.8v6.4M858.5 470.8v6.4M862.5 470.8v6.4M864.5 470.8v6.4M874.5 470.8v6.4M876.5 470.8v6.4M877.5 470.8v6.4M883.5 470.8v6.4M885.5 470.8v6.4M886.5 470.8v6.4M900.5 473.4v6.4M906.5 474.1v6.4M918.5 477.2v6.4M919.5 477.2v6.4M920.5 477.2v6.4M937.5 477.2v6.4M938.5 477.2v6.4M939.5 477.2v6.4M945.5 477.2v6.4M959.5 477.2v6.4M973.5 477.2v6.4M979.5 477.2v6.4M982.5 477.2v6.4" fill="none" stroke="#7c7c80" stroke-width="1"/>
<path d="M593.8 422.2H635.2V422.9H637.7V425.4H653.0V426.4H655.6V427.2H658.2V428.0H681.1V428.5H683.6V429.6H686.2V430.6H688.8V431.7H691.3V432.8H710.5V433.6H713.0V434.6H715.6V435.7H718.1V436.7H720.4V437.3H722.7V437.8H725.0V438.4H727.3V438.9H729.6V439.5H773.0V440.0H775.5V441.9H778.1V443.8H788.0V444.6H842.9V445.4H845.4V448.0H864.6V448.5H866.0V449.3H939.8V449.3H941.3V453.1H942.7V456.9H944.2V460.7H984.0V461.2H984.5V479.6H1021.5V479.6" fill="none" stroke="#1f60a8" stroke-width="1.3"/>
<path d="M612.5 419.0v6.4M613.5 419.0v6.4M622.5 419.0v6.4M635.5 419.7v6.4M637.5 419.7v6.4M639.5 422.2v6.4M642.5 422.2v6.4M645.5 422.2v6.4M653.5 423.2v6.4M667.5 424.8v6.4M678.5 424.8v6.4M688.5 428.5v6.4M691.5 429.6v6.4M696.5 429.6v6.4M700.5 429.6v6.4M710.5 430.4v6.4M718.5 433.5v6.4M722.5 434.4v6.4M724.5 435.1v6.4M729.5 436.3v6.4M733.5 436.3v6.4M742.5 436.3v6.4M745.5 436.3v6.4M747.5 436.3v6.4M750.5 436.3v6.4M755.5 436.3v6.4M757.5 436.3v6.4M765.5 436.3v6.4M767.5 436.3v6.4M775.5 438.7v6.4M783.5 440.6v6.4M790.5 441.4v6.4M792.5 441.4v6.4M793.5 441.4v6.4M795.5 441.4v6.4M797.5 441.4v6.4M805.5 441.4v6.4M811.5 441.4v6.4M822.5 441.4v6.4M824.5 441.4v6.4M826.5 441.4v6.4M828.5 441.4v6.4M830.5 441.4v6.4M832.5 441.4v6.4M834.5 441.4v6.4M836.5 441.4v6.4M838.5 441.4v6.4M840.5 441.4v6.4M842.5 442.2v6.4M848.5 444.8v6.4M851.5 444.8v6.4M853.5 444.8v6.4M854.5 444.8v6.4M855.5 444.8v6.4M856.5 444.8v6.4M858.5 444.8v6.4M859.5 444.8v6.4M860.5 444.8v6.4M862.5 444.8v6.4M865.5 446.1v6.4M867.5 446.1v6.4M869.5 446.1v6.4M871.5 446.1v6.4M873.5 446.1v6.4M875.5 446.1v6.4M877.5 446.1v6.4M880.5 446.1v6.4M885.5 446.1v6.4M890.5 446.1v6.4M892.5 446.1v6.4M894.5 446.1v6.4M896.5 446.1v6.4M899.5 446.1v6.4M901.5 446.1v6.4M915.5 446.1v6.4M918.5 446.1v6.4M920.5 446.1v6.4M925.5 446.1v6.4M934.5 446.1v6.4M936.5 446.1v6.4M938.5 446.1v6.4M956.5 457.5v6.4M959.5 457.5v6.4M961.5 457.5v6.4M970.5 457.5v6.4M982.5 457.5v6.4M1001.5 476.4v6.4M1021.5 476.4v6.4" fill="none" stroke="#1f60a8" stroke-width="1"/>
<rect x="926.3" y="403.0" width="124.6" height="36.6" fill="#13599f"/>
<text x="988.6" y="420.0" font-size="14.60" text-anchor="middle" fill="#ffffff" font-weight="bold" font-style="normal">mDOR: 39.2 mo</text>
<text x="988.6" y="435.0" font-size="11.10" text-anchor="middle" fill="#ffffff" font-weight="bold" font-style="normal">95% CI 35.1, NC</text>
<rect x="731.9" y="481.6" width="125.3" height="37.9" fill="#7b7a7f"/>
<text x="794.5" y="499.3" font-size="14.60" text-anchor="middle" fill="#ffffff" font-weight="bold" font-style="normal">mDOR: 31.3 mo</text>
<text x="794.5" y="514.5" font-size="11.10" text-anchor="middle" fill="#ffffff" font-weight="bold" font-style="normal">95% CI 24.5, NC</text>
<path d="M593.8 632.5V746.5H1044.3M593.8 746.5h-4.8M593.8 724.0h-4.8M593.8 701.5h-4.8M593.8 679.0h-4.8M593.8 656.5h-4.8M593.8 634.0h-4.8M593.8 746.5v3.5M623.8 746.5v3.5M653.8 746.5v3.5M683.8 746.5v3.5M713.8 746.5v3.5M743.8 746.5v3.5M773.8 746.5v3.5M803.8 746.5v3.5M833.8 746.5v3.5M863.8 746.5v3.5M893.8 746.5v3.5M923.8 746.5v3.5M953.8 746.5v3.5M983.8 746.5v3.5M1013.8 746.5v3.5M1043.8 746.5v3.5" fill="none" stroke="#585858" stroke-width="1.3"/>
<text x="586.8" y="750.4" font-size="11.00" text-anchor="end" fill="#222222" font-weight="normal" font-style="normal">0</text>
<text x="586.8" y="727.9" font-size="11.00" text-anchor="end" fill="#222222" font-weight="normal" font-style="normal">0.2</text>
<text x="586.8" y="705.4" font-size="11.00" text-anchor="end" fill="#222222" font-weight="normal" font-style="normal">0.4</text>
<text x="586.8" y="682.9" font-size="11.00" text-anchor="end" fill="#222222" font-weight="normal" font-style="normal">0.6</text>
<text x="586.8" y="660.4" font-size="11.00" text-anchor="end" fill="#222222" font-weight="normal" font-style="normal">0.8</text>
<text x="586.8" y="637.9" font-size="11.00" text-anchor="end" fill="#222222" font-weight="normal" font-style="normal">1.0</text>
<text x="593.8" y="763.0" font-size="11.00" text-anchor="middle" fill="#222222" font-weight="normal" font-style="normal">0</text>
<text x="623.8" y="763.0" font-size="11.00" text-anchor="middle" fill="#222222" font-weight="normal" font-style="normal">3</text>
<text x="653.8" y="763.0" font-size="11.00" text-anchor="middle" fill="#222222" font-weight="normal" font-style="normal">6</text>
<text x="683.8" y="763.0" font-size="11.00" text-anchor="middle" fill="#222222" font-weight="normal" font-style="normal">9</text>
<text x="713.8" y="763.0" font-size="11.00" text-anchor="middle" fill="#222222" font-weight="normal" font-style="normal">12</text>
<text x="743.8" y="763.0" font-size="11.00" text-anchor="middle" fill="#222222" font-weight="normal" font-style="normal">15</text>
<text x="773.8" y="763.0" font-size="11.00" text-anchor="middle" fill="#222222" font-weight="normal" font-style="normal">18</text>
<text x="803.8" y="763.0" font-size="11.00" text-anchor="middle" fill="#222222" font-weight="normal" font-style="normal">21</text>
<text x="833.8" y="763.0" font-size="11.00" text-anchor="middle" fill="#222222" font-weight="normal" font-style="normal">24</text>
<text x="863.8" y="763.0" font-size="11.00" text-anchor="middle" fill="#222222" font-weight="normal" font-style="normal">27</text>
<text x="893.8" y="763.0" font-size="11.00" text-anchor="middle" fill="#222222" font-weight="normal" font-style="normal">30</text>
<text x="923.8" y="763.0" font-size="11.00" text-anchor="middle" fill="#222222" font-weight="normal" font-style="normal">33</text>
<text x="953.8" y="763.0" font-size="11.00" text-anchor="middle" fill="#222222" font-weight="normal" font-style="normal">36</text>
<text x="983.8" y="763.0" font-size="11.00" text-anchor="middle" fill="#222222" font-weight="normal" font-style="normal">39</text>
<text x="1013.8" y="763.0" font-size="11.00" text-anchor="middle" fill="#222222" font-weight="normal" font-style="normal">42</text>
<text x="1043.8" y="763.0" font-size="11.00" text-anchor="middle" fill="#222222" font-weight="normal" font-style="normal">45</text>
<text x="817.2" y="776.4" font-size="11.20" text-anchor="middle" fill="#222222" font-weight="normal" font-style="normal">Time from objective response (mo)</text>
<text x="547.4" y="690.2" font-size="11.20" text-anchor="middle" fill="#222222" font-weight="normal" font-style="normal" transform="rotate(-90 547.4 690.2)">Probability of</text>
<text x="561.4" y="690.2" font-size="11.20" text-anchor="middle" fill="#222222" font-weight="normal" font-style="normal" transform="rotate(-90 561.4 690.2)">remaining in response</text>
<text x="531.8" y="781.0" font-size="9.60" text-anchor="start" fill="#222222" font-weight="normal" font-style="normal">No. at risk</text>
<text x="531.8" y="793.5" font-size="9.60" text-anchor="start" fill="#2a68ae" font-weight="normal" font-style="normal">T-DXd + P</text>
<text x="531.8" y="805.0" font-size="9.60" text-anchor="start" fill="#808184" font-weight="normal" font-style="normal">THP</text>
<text x="593.8" y="793.5" font-size="9.60" text-anchor="middle" fill="#2a68ae" font-weight="normal" font-style="normal">145</text>
<text x="623.8" y="793.5" font-size="9.60" text-anchor="middle" fill="#2a68ae" font-weight="normal" font-style="normal">139</text>
<text x="653.8" y="793.5" font-size="9.60" text-anchor="middle" fill="#2a68ae" font-weight="normal" font-style="normal">133</text>
<text x="683.8" y="793.5" font-size="9.60" text-anchor="middle" fill="#2a68ae" font-weight="normal" font-style="normal">122</text>
<text x="713.8" y="793.5" font-size="9.60" text-anchor="middle" fill="#2a68ae" font-weight="normal" font-style="normal">111</text>
<text x="743.8" y="793.5" font-size="9.60" text-anchor="middle" fill="#2a68ae" font-weight="normal" font-style="normal">98</text>
<text x="773.8" y="793.5" font-size="9.60" text-anchor="middle" fill="#2a68ae" font-weight="normal" font-style="normal">75</text>
<text x="803.8" y="793.5" font-size="9.60" text-anchor="middle" fill="#2a68ae" font-weight="normal" font-style="normal">56</text>
<text x="833.8" y="793.5" font-size="9.60" text-anchor="middle" fill="#2a68ae" font-weight="normal" font-style="normal">43</text>
<text x="863.8" y="793.5" font-size="9.60" text-anchor="middle" fill="#2a68ae" font-weight="normal" font-style="normal">25</text>
<text x="893.8" y="793.5" font-size="9.60" text-anchor="middle" fill="#2a68ae" font-weight="normal" font-style="normal">15</text>
<text x="923.8" y="793.5" font-size="9.60" text-anchor="middle" fill="#2a68ae" font-weight="normal" font-style="normal">5</text>
<text x="953.8" y="793.5" font-size="9.60" text-anchor="middle" fill="#2a68ae" font-weight="normal" font-style="normal">2</text>
<text x="983.8" y="793.5" font-size="9.60" text-anchor="middle" fill="#2a68ae" font-weight="normal" font-style="normal">0</text>
<text x="593.8" y="805.0" font-size="9.60" text-anchor="middle" fill="#808184" font-weight="normal" font-style="normal">140</text>
<text x="623.8" y="805.0" font-size="9.60" text-anchor="middle" fill="#808184" font-weight="normal" font-style="normal">133</text>
<text x="653.8" y="805.0" font-size="9.60" text-anchor="middle" fill="#808184" font-weight="normal" font-style="normal">117</text>
<text x="683.8" y="805.0" font-size="9.60" text-anchor="middle" fill="#808184" font-weight="normal" font-style="normal">107</text>
<text x="713.8" y="805.0" font-size="9.60" text-anchor="middle" fill="#808184" font-weight="normal" font-style="normal">90</text>
<text x="743.8" y="805.0" font-size="9.60" text-anchor="middle" fill="#808184" font-weight="normal" font-style="normal">78</text>
<text x="773.8" y="805.0" font-size="9.60" text-anchor="middle" fill="#808184" font-weight="normal" font-style="normal">63</text>
<text x="803.8" y="805.0" font-size="9.60" text-anchor="middle" fill="#808184" font-weight="normal" font-style="normal">46</text>
<text x="833.8" y="805.0" font-size="9.60" text-anchor="middle" fill="#808184" font-weight="normal" font-style="normal">32</text>
<text x="863.8" y="805.0" font-size="9.60" text-anchor="middle" fill="#808184" font-weight="normal" font-style="normal">18</text>
<text x="893.8" y="805.0" font-size="9.60" text-anchor="middle" fill="#808184" font-weight="normal" font-style="normal">9</text>
<text x="923.8" y="805.0" font-size="9.60" text-anchor="middle" fill="#808184" font-weight="normal" font-style="normal">4</text>
<text x="953.8" y="805.0" font-size="9.60" text-anchor="middle" fill="#808184" font-weight="normal" font-style="normal">3</text>
<text x="983.8" y="805.0" font-size="9.60" text-anchor="middle" fill="#808184" font-weight="normal" font-style="normal">0</text>
<path d="M593.8 634.0H621.1V635.0H623.7V635.8H626.2V636.5H628.8V637.3H631.3V638.0H633.9V638.8H636.5V642.9H638.9V643.4H641.2V644.0H643.6V644.5H645.9V645.1H648.3V645.6H650.6V646.2H653.0V646.7H655.6V648.1H658.1V649.5H660.7V650.8H663.2V652.2H665.8V653.6H681.1V654.9H683.6V656.0H686.2V657.0H688.8V658.1H691.3V659.2H693.7V660.1H696.1V661.0H698.5V661.8H700.9V662.7H703.4V663.6H705.8V664.5H708.2V665.3H710.6V666.2H713.0V667.1H715.4V667.5H717.7V668.0H720.0V668.4H722.4V668.8H724.8V669.3H727.1V669.7H729.6V670.8H732.2V671.9H734.8V672.9H737.3V674.0H759.0V675.3H761.5V676.5H764.1V677.8H776.8V678.6H778.9V679.6H781.1V680.7H783.2V681.7H785.7V682.3H788.2V682.9H790.7V683.6H793.2V684.2H795.7V684.8H798.2V685.6H800.8V686.5H803.3V687.3H805.5V687.8H807.8V688.2H810.0V688.6H812.2V689.1H814.8V690.4H817.3V691.6H819.9V692.9H845.4V693.7H848.0V694.0H850.5V694.4H853.0V694.7H855.6V695.0H856.9V698.0H959.0V698.0" fill="none" stroke="#7c7c80" stroke-width="1.2"/>
<path d="M608.5 630.8v6.4M609.5 630.8v6.4M611.5 630.8v6.4M621.5 631.8v6.4M623.5 632.6v6.4M644.5 641.5v6.4M646.5 642.0v6.4M651.5 643.2v6.4M688.5 654.9v6.4M692.5 656.5v6.4M728.5 667.0v6.4M732.5 668.6v6.4M743.5 670.8v6.4M746.5 670.8v6.4M751.5 670.8v6.4M753.5 670.8v6.4M755.5 670.8v6.4M757.5 670.8v6.4M760.5 672.7v6.4M767.5 674.6v6.4M771.5 674.6v6.4M773.5 674.6v6.4M775.5 674.6v6.4M792.5 680.7v6.4M796.5 681.7v6.4M790.5 680.3v6.4M799.5 682.8v6.4M803.5 684.1v6.4M807.5 684.9v6.4M812.5 685.9v6.4M814.5 687.2v6.4M821.5 689.7v6.4M835.5 689.7v6.4M837.5 689.7v6.4M842.5 689.7v6.4M844.5 689.7v6.4M855.5 691.8v6.4M858.5 694.8v6.4M860.5 694.8v6.4M865.5 694.8v6.4M868.5 694.8v6.4M876.5 694.8v6.4M878.5 694.8v6.4M881.5 694.8v6.4M883.5 694.8v6.4M896.5 694.8v6.4M899.5 694.8v6.4M901.5 694.8v6.4M904.5 694.8v6.4M911.5 694.8v6.4M914.5 694.8v6.4M916.5 694.8v6.4M936.5 694.8v6.4M956.5 694.8v6.4M957.5 694.8v6.4M959.5 694.8v6.4" fill="none" stroke="#7c7c80" stroke-width="1"/>
<path d="M593.8 634.0H641.6V635.0H643.9V635.8H646.2V636.6H648.4V637.4H650.7V638.2H653.0V639.0H667.1V640.3H669.4V641.1H671.8V642.0H674.1V642.8H676.4V643.7H678.8V644.5H681.1V645.4H683.6V645.7H686.2V646.0H688.8V646.4H691.3V646.7H718.1V648.0H720.5V648.7H722.8V649.4H725.2V650.1H727.5V650.9H729.9V651.6H732.2V652.3H734.5V653.0H736.9V653.8H739.2V654.5H741.5V655.2H743.9V656.0H746.2V656.7H748.6V657.1H750.9V657.4H753.3V657.8H755.7V658.1H758.1V658.5H760.4V658.8H762.8V659.2H764.9V660.6H767.1V661.9H769.2V663.3H771.5V663.6H773.9V663.9H776.2V664.2H778.5V664.5H780.9V664.8H783.2V665.1H799.5V665.6H803.3V667.4H812.2V668.2H814.8V670.4H817.3V672.5H848.0V673.3H851.8V676.9H864.6V677.6H867.2V678.2H869.7V678.9H885.0V679.4H886.3V683.5H905.4V684.0H907.4V687.8H945.7V687.8H946.2V707.0H957.7V707.0" fill="none" stroke="#1f60a8" stroke-width="1.3"/>
<path d="M608.5 630.8v6.4M611.5 630.8v6.4M617.5 630.8v6.4M621.5 630.8v6.4M623.5 630.8v6.4M665.5 635.8v6.4M668.5 637.6v6.4M681.5 642.2v6.4M688.5 643.2v6.4M691.5 643.5v6.4M707.5 643.5v6.4M710.5 643.5v6.4M711.5 643.5v6.4M716.5 643.5v6.4M723.5 646.4v6.4M730.5 648.7v6.4M738.5 651.1v6.4M744.5 653.1v6.4M746.5 653.5v6.4M750.5 654.1v6.4M752.5 654.5v6.4M755.5 654.8v6.4M757.5 655.2v6.4M761.5 655.8v6.4M764.5 656.8v6.4M767.5 659.3v6.4M769.5 660.1v6.4M771.5 660.3v6.4M772.5 660.5v6.4M774.5 660.8v6.4M776.5 661.1v6.4M780.5 661.6v6.4M783.5 661.9v6.4M788.5 661.9v6.4M790.5 661.9v6.4M792.5 661.9v6.4M796.5 661.9v6.4M802.5 662.4v6.4M804.5 664.2v6.4M807.5 664.2v6.4M812.5 665.0v6.4M814.5 667.2v6.4M819.5 669.3v6.4M830.5 669.3v6.4M832.5 669.3v6.4M835.5 669.3v6.4M836.5 669.3v6.4M838.5 669.3v6.4M840.5 669.3v6.4M846.5 669.3v6.4M850.5 670.1v6.4M852.5 673.7v6.4M853.5 673.7v6.4M855.5 673.7v6.4M863.5 673.7v6.4M871.5 675.7v6.4M872.5 675.7v6.4M874.5 675.7v6.4M878.5 675.7v6.4M892.5 680.3v6.4M896.5 680.3v6.4M899.5 680.3v6.4M904.5 680.3v6.4M918.5 684.6v6.4M920.5 684.6v6.4M922.5 684.6v6.4M937.5 684.6v6.4M945.5 684.6v6.4M957.5 703.8v6.4" fill="none" stroke="#1f60a8" stroke-width="1"/>
<rect x="926.3" y="637.6" width="124.6" height="37.0" fill="#13599f"/>
<text x="988.6" y="654.5" font-size="14.60" text-anchor="middle" fill="#ffffff" font-weight="bold" font-style="normal">mDOR: 35.3 mo</text>
<text x="988.6" y="669.7" font-size="11.10" text-anchor="middle" fill="#ffffff" font-weight="bold" font-style="normal">95% CI 27.3, NC</text>
<rect x="731.9" y="704.0" width="125.3" height="37.1" fill="#7b7a7f"/>
<text x="794.5" y="721.5" font-size="14.60" text-anchor="middle" fill="#ffffff" font-weight="bold" font-style="normal">mDOR: 21.9 mo</text>
<text x="794.5" y="736.5" font-size="11.10" text-anchor="middle" fill="#ffffff" font-weight="bold" font-style="normal">95% CI 18.4, NC</text>
<path d="M58.5 438.0V729.0M58.5 729.0h-4.6M58.5 700.0h-4.6M58.5 670.9h-4.6M58.5 641.9h-4.6M58.5 612.8h-4.6M58.5 583.8h-4.6M58.5 554.7h-4.6M58.5 525.6h-4.6M58.5 496.6h-4.6M58.5 467.6h-4.6M58.5 438.5h-4.6" fill="none" stroke="#666" stroke-width="1.1"/>
<text x="47.2" y="733.5" font-size="12.60" text-anchor="end" fill="#222222" font-weight="normal" font-style="normal">0</text>
<text x="47.2" y="704.5" font-size="12.60" text-anchor="end" fill="#222222" font-weight="normal" font-style="normal">10</text>
<text x="47.2" y="675.4" font-size="12.60" text-anchor="end" fill="#222222" font-weight="normal" font-style="normal">20</text>
<text x="47.2" y="646.4" font-size="12.60" text-anchor="end" fill="#222222" font-weight="normal" font-style="normal">30</text>
<text x="47.2" y="617.3" font-size="12.60" text-anchor="end" fill="#222222" font-weight="normal" font-style="normal">40</text>
<text x="47.2" y="588.2" font-size="12.60" text-anchor="end" fill="#222222" font-weight="normal" font-style="normal">50</text>
<text x="47.2" y="559.2" font-size="12.60" text-anchor="end" fill="#222222" font-weight="normal" font-style="normal">60</text>
<text x="47.2" y="530.1" font-size="12.60" text-anchor="end" fill="#222222" font-weight="normal" font-style="normal">70</text>
<text x="47.2" y="501.1" font-size="12.60" text-anchor="end" fill="#222222" font-weight="normal" font-style="normal">80</text>
<text x="47.2" y="472.1" font-size="12.60" text-anchor="end" fill="#222222" font-weight="normal" font-style="normal">90</text>
<text x="47.2" y="443.0" font-size="12.60" text-anchor="end" fill="#222222" font-weight="normal" font-style="normal">100</text>
<text x="16.6" y="583.2" font-size="12.90" text-anchor="middle" fill="#222222" font-weight="normal" font-style="normal" transform="rotate(-90 16.6 583.2)">Best objective response of CR/PR (%)</text>
<rect x="62.6" y="466.2" width="85.8" height="47.8" fill="#0a2a50"/>
<rect x="62.6" y="514.0" width="85.8" height="215.0" fill="#a8b4c3"/>
<text x="105.5" y="498.0" font-size="15.70" text-anchor="middle" fill="#fff" font-weight="bold" font-style="normal">16.5</text>
<text x="105.5" y="628.8" font-size="15.70" text-anchor="middle" fill="#111" font-weight="bold" font-style="normal">74.0</text>
<text x="105.5" y="442.5" font-size="15.70" text-anchor="middle" fill="#111" font-weight="bold" font-style="normal">90.5</text>
<text x="105.5" y="459.7" font-size="12.70" text-anchor="middle" fill="#111" font-weight="bold" font-style="normal">(85.6, 94.2)</text>
<rect x="157.2" y="491.0" width="85.6" height="18.6" fill="#0a2a50"/>
<rect x="157.2" y="509.6" width="85.6" height="219.4" fill="#a8b4c3"/>
<text x="200.0" y="506.3" font-size="15.70" text-anchor="middle" fill="#fff" font-weight="bold" font-style="normal">6.5</text>
<text x="200.0" y="625.5" font-size="15.70" text-anchor="middle" fill="#111" font-weight="bold" font-style="normal">75.5</text>
<text x="200.0" y="467.9" font-size="15.70" text-anchor="middle" fill="#111" font-weight="bold" font-style="normal">82.0</text>
<text x="200.0" y="484.0" font-size="12.70" text-anchor="middle" fill="#111" font-weight="bold" font-style="normal">(76.0, 87.1)</text>
<rect x="287.0" y="499.7" width="86.0" height="39.9" fill="#0a2a50"/>
<rect x="287.0" y="539.6" width="86.0" height="189.4" fill="#a8b4c3"/>
<text x="330.0" y="525.8" font-size="15.70" text-anchor="middle" fill="#fff" font-weight="bold" font-style="normal">13.7</text>
<text x="330.0" y="639.7" font-size="15.70" text-anchor="middle" fill="#111" font-weight="bold" font-style="normal">65.6</text>
<text x="330.0" y="476.3" font-size="15.70" text-anchor="middle" fill="#111" font-weight="bold" font-style="normal">79.2</text>
<text x="330.0" y="493.0" font-size="12.70" text-anchor="middle" fill="#111" font-weight="bold" font-style="normal">(72.6, 84.9)</text>
<rect x="381.5" y="512.0" width="85.7" height="31.4" fill="#0a2a50"/>
<rect x="381.5" y="543.4" width="85.7" height="185.6" fill="#a8b4c3"/>
<text x="424.4" y="535.6" font-size="15.70" text-anchor="middle" fill="#fff" font-weight="bold" font-style="normal">10.7</text>
<text x="424.4" y="647.1" font-size="15.70" text-anchor="middle" fill="#111" font-weight="bold" font-style="normal">64.2</text>
<text x="424.4" y="488.6" font-size="15.70" text-anchor="middle" fill="#111" font-weight="bold" font-style="normal">74.9</text>
<text x="424.4" y="506.0" font-size="12.70" text-anchor="middle" fill="#111" font-weight="bold" font-style="normal">(68.0, 80.9)</text>
<path d="M54 729.4H246.5M282 729.6H471.6" fill="none" stroke="#666" stroke-width="1.1"/>
<rect x="157.4" y="509.7" width="85.5" height="219.6" fill="none" stroke="#e07c7c" stroke-width="1"/><circle cx="157.4" cy="509.7" r="3.8" fill="#fff" stroke="#e07c7c" stroke-width="1"/><circle cx="242.9" cy="509.7" r="3.8" fill="#fff" stroke="#e07c7c" stroke-width="1"/><circle cx="157.4" cy="729.3" r="3.8" fill="#fff" stroke="#e07c7c" stroke-width="1"/><circle cx="242.9" cy="729.3" r="3.8" fill="#fff" stroke="#e07c7c" stroke-width="1"/><rect x="191.2" y="506.9" width="18" height="5.6" rx="2.8" fill="#fff" stroke="#e07c7c" stroke-width="1"/><rect x="191.2" y="726.5" width="18" height="5.6" rx="2.8" fill="#fff" stroke="#e07c7c" stroke-width="1"/><rect x="154.6" y="611.9" width="5.6" height="17" rx="2.8" fill="#fff" stroke="#e07c7c" stroke-width="1"/><rect x="240.1" y="611.9" width="5.6" height="17" rx="2.8" fill="#fff" stroke="#e07c7c" stroke-width="1"/>
<rect x="384.6" y="426.4" width="11.6" height="10.4" fill="#0a2a50"/>
<rect x="429.2" y="426.4" width="11.2" height="10.4" fill="#a8b4c3"/>
<text x="400.8" y="436.4" font-size="12.50" text-anchor="start" fill="#222222" font-weight="normal" font-style="normal">CR</text>
<text x="444.6" y="436.4" font-size="12.50" text-anchor="start" fill="#222222" font-weight="normal" font-style="normal">PR</text>
<rect x="62.2" y="735.1" width="86.3" height="35.4" fill="#13599f"/>
<text x="105.3" y="750.0" font-size="14.00" text-anchor="middle" fill="#fff" font-weight="bold" font-style="normal">T-DXd + P</text>
<text x="105.3" y="765.7" font-size="14.00" text-anchor="middle" fill="#fff" font-weight="bold" font-style="normal">(n=200)</text>
<rect x="157.2" y="735.1" width="85.8" height="35.4" fill="#7b7a7f"/>
<text x="200.1" y="750.0" font-size="14.00" text-anchor="middle" fill="#fff" font-weight="bold" font-style="normal">THP</text>
<text x="200.1" y="765.7" font-size="14.00" text-anchor="middle" fill="#fff" font-weight="bold" font-style="normal">(n=200)</text>
<rect x="287.0" y="735.1" width="86.2" height="35.4" fill="#13599f"/>
<text x="330.1" y="750.0" font-size="14.00" text-anchor="middle" fill="#fff" font-weight="bold" font-style="normal">T-DXd + P</text>
<text x="330.1" y="765.7" font-size="14.00" text-anchor="middle" fill="#fff" font-weight="bold" font-style="normal">(n=183)</text>
<rect x="381.5" y="735.1" width="85.9" height="35.4" fill="#7b7a7f"/>
<text x="424.4" y="750.0" font-size="14.00" text-anchor="middle" fill="#fff" font-weight="bold" font-style="normal">THP</text>
<text x="424.4" y="765.7" font-size="14.00" text-anchor="middle" fill="#fff" font-weight="bold" font-style="normal">(n=187)</text>
<rect x="62.2" y="776.3" width="180.8" height="32.1" fill="#b0d78e"/>
<rect x="287" y="776.3" width="180.3" height="32.1" fill="#b0d78e"/>
<text x="152.6" y="799.3" font-size="19.00" text-anchor="middle" fill="#111" font-weight="bold" font-style="italic">De novo</text>
<text x="377.2" y="799.3" font-size="19.00" text-anchor="middle" fill="#111" font-weight="bold" font-style="normal">Recurrent</text>
</svg>
</body></html>
